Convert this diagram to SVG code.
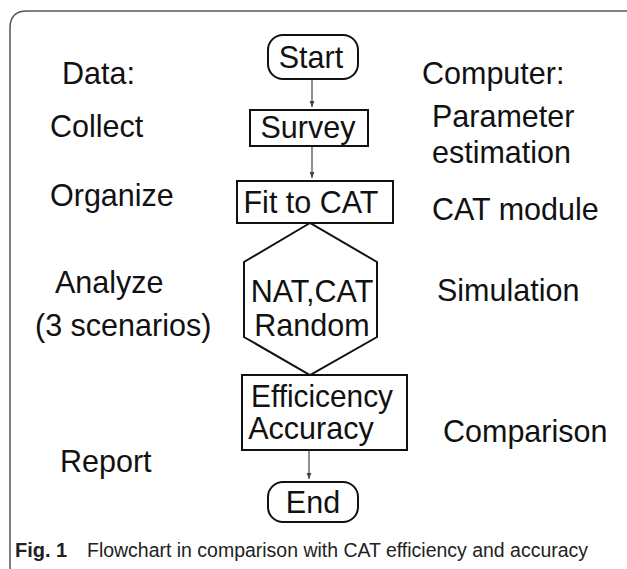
<svg xmlns="http://www.w3.org/2000/svg" width="627" height="569" viewBox="0 0 627 569">
<defs>
<style>
text{font-family:'Liberation Sans',sans-serif}
.t{font-size:30.5px;fill:#111}
.c{text-anchor:middle}
.box{fill:#fff;stroke:#111;stroke-width:2}
.ln{stroke:#444;stroke-width:1.2;fill:none}
.cap{font-size:20px;fill:#222}
</style>
<marker id="ah" viewBox="0 0 10 10" refX="10" refY="5" markerWidth="5" markerHeight="5" orient="auto"><path d="M0,1 L10,5 L0,9 z" fill="#444"/></marker>
</defs>
<rect width="627" height="569" fill="#fff"/>
<path d="M10,569 L10,28 Q10,11 27,11 L627,11" fill="none" stroke="#555" stroke-width="1.5"/>
<g id="labels-left">
<text class="t" x="62" y="84">Data:</text>
<text class="t" x="50" y="137">Collect</text>
<text class="t" x="50" y="206">Organize</text>
<text class="t" x="55" y="293">Analyze</text>
<text class="t" x="35" y="336">(3 scenarios)</text>
<text class="t" x="60" y="472">Report</text>
</g>
<g id="labels-right">
<text class="t" x="422" y="84">Computer:</text>
<text class="t" x="432" y="127">Parameter</text>
<text class="t" x="432" y="163">estimation</text>
<text class="t" x="432" y="220">CAT module</text>
<text class="t" x="437" y="301">Simulation</text>
<text class="t" x="443" y="442">Comparison</text>
</g>
<g id="connectors">
<line class="ln" x1="312" y1="79" x2="312" y2="107" marker-end="url(#ah)"/>
<line class="ln" x1="312" y1="146" x2="312" y2="178" marker-end="url(#ah)"/>
<line class="ln" x1="309" y1="450" x2="309" y2="479" marker-end="url(#ah)"/>
</g>
<g id="start">
<rect class="box" x="268" y="35" width="90" height="44" rx="15"/>
<text class="t c" x="311" y="68">Start</text>
</g>
<g id="survey">
<rect class="box" x="250" y="110" width="118" height="36"/>
<text class="t c" x="308" y="138">Survey</text>
</g>
<g id="fit">
<rect class="box" x="237" y="181" width="156" height="42"/>
<text class="t c" x="311" y="213">Fit to CAT</text>
</g>
<g id="sim">
<polygon class="box" points="310,223 244,262 244,337 310,375 377,337 377,262"/>
<text class="t c" x="312" y="302">NAT,CAT</text>
<text class="t c" x="312" y="336">Random</text>
</g>
<g id="eval">
<rect class="box" x="242" y="375" width="165" height="75"/>
<text class="t c" x="322" y="407" textLength="142" lengthAdjust="spacingAndGlyphs">Efficicency</text>
<text class="t c" x="311" y="439">Accuracy</text>
</g>
<g id="end">
<rect class="box" x="268" y="482" width="90" height="40" rx="15"/>
<text class="t c" x="313" y="513">End</text>
</g>
<g id="caption">
<text class="cap" x="15" y="557" font-weight="bold">Fig. 1</text>
<text class="cap" x="87" y="557" textLength="501" lengthAdjust="spacingAndGlyphs">Flowchart in comparison with CAT efficiency and accuracy</text>
</g>
</svg>
